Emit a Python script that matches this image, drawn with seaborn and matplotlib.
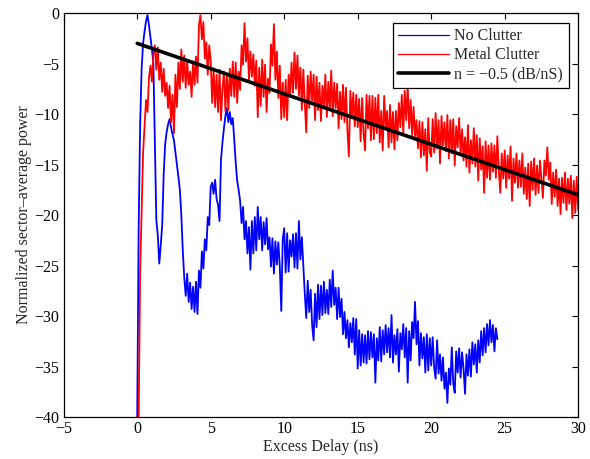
import numpy as np
import pandas as pd
import matplotlib
matplotlib.use('Agg')
import matplotlib.pyplot as plt
import seaborn as sns

# ── Data (0.1 ns steps) ───────────────────────────────────────────────────
no_clutter_t = np.round(np.arange(0, 246) * 0.1, 1)
no_clutter_db = [
    -40, -21, -11, -5.5, -3, -1.8, -0.8, -0.2, -1.2, -2.4,
    -3.6, -5, -13, -20.5, -22, -24.8, -23, -21, -16, -13,
    -11.8, -11, -10.5, -11.3, -12, -12.6, -13.8, -15, -16.2, -17.5,
    -20, -23.5, -26.2, -28, -25.8, -28.6, -26.7, -29.3, -27.1, -29.6,
    -26.6, -29.8, -25.5, -27.2, -23.6, -25.3, -22.4, -23.5, -20.2, -21,
    -17.2, -16.8, -17.9, -16.5, -18.4, -19, -20.6, -14.5, -12.8, -11.4,
    -10.2, -9.4, -10.8, -9.8, -11, -10.4, -12.5, -14.8, -16.6, -17.5,
    -18.6, -20.8, -19.2, -22.4, -20.6, -23.8, -21.2, -25.4, -20.6, -23.8,
    -20.2, -23.5, -19.2, -22.4, -20.2, -23.5, -20.7, -22.9, -20.3, -23.4,
    -22.2, -25.1, -22.3, -25.8, -22.6, -24.9, -22.7, -25.1, -29.5, -22.4,
    -21.3, -25.7, -21.8, -25.6, -22.5, -24.1, -21.9, -25.2, -21.8, -25.3,
    -20.6, -24.4, -22.2, -25.1, -27.8, -30.2, -26.5, -29.6, -27.4, -30.9,
    -32.4, -27.8, -31.1, -26.9, -30.3, -27, -29.9, -26.6, -29.7, -27.4,
    -29.8, -26.4, -29.1, -25.5, -28.9, -27.2, -30.3, -27.2, -30.1, -28.3,
    -31.8, -29.6, -32.2, -30.4, -33.1, -30.7, -32.6, -30.2, -33.8, -30.3,
    -35.2, -31.4, -34.9, -31.8, -34.6, -31.9, -34.7, -31.5, -34.3, -31.6,
    -34.1, -31.8, -36.6, -32.2, -34.4, -31.1, -34.5, -31.4, -33.8, -30.9,
    -33.6, -31.2, -34.1, -29.9, -34.6, -31.9, -33.8, -31.3, -35.5, -31.7,
    -33.3, -30.8, -34.1, -31.2, -36.6, -31.5, -34.4, -30.6, -32.2, -28.6,
    -32.8, -30.5, -34.9, -31.7, -34.2, -32.1, -35.6, -31.8, -35.4, -32.2,
    -34.9, -32.1, -35.1, -36.2, -32.4, -35.7, -33.8, -36.4, -34.1, -37.2,
    -35.6, -38.6, -35.2, -36.8, -33.1, -36.7, -37.6, -33.5, -35.6, -33.2,
    -36.1, -33.6, -35.2, -37.7, -33.8, -35.9, -33.3, -36, -32.6, -34.8,
    -32.8, -35.6, -32.4, -34.6, -31.5, -33.9, -31.2, -33.6, -30.8, -32.9,
    -30.4, -32.6, -30.9, -33.5, -31.2, -32.3,
]

metal_t = np.round(np.arange(0, 301) * 0.1, 1)
metal_db = [
    -40, -40, -25.5, -19.5, -13.8, -11.2, -8.6, -9.8, -6.4, -5.2,
    -6.8, -4.1, -3.2, -5.6, -3.4, -6.6, -4.9, -7.8, -5.5, -8.2,
    -6.9, -9.4, -7.2, -10.8, -8.1, -11.9, -6.1, -9.3, -4.9, -7.5,
    -3.6, -6.8, -4.2, -7.4, -4.7, -7.1, -5.8, -8.3, -4.8, -7.1,
    -4.3, -6.9, -1.2, -0.2, -2.6, -0.9, -4.5, -2.9, -6.1, -3.2,
    -4.7, -8.9, -5.5, -9.3, -6.1, -9.8, -5.6, -10.6, -7.5, -5.8,
    -9.7, -6.1, -9.6, -5.5, -8.2, -4.8, -8.3, -4.9, -8.9, -5.8,
    -7.6, -3.2, -5.1, -1, -4.8, -2.5, -6.6, -3.8, -6.3, -4.1,
    -7.2, -4.7, -10.3, -5.4, -9.2, -4.6, -8.3, -5.1, -9.8, -6.5,
    -7.9, -3.1, -5.2, -1.1, -6.6, -3.8, -8.4, -5.2, -10.5, -6.9,
    -10.3, -6.6, -10.6, -6.1, -8.2, -4.9, -7.9, -3.9, -7.5, -4.2,
    -8.2, -5.4, -9.6, -5.6, -8.9, -11.8, -6.2, -9.4, -5.8, -8.7,
    -6.1, -10.6, -6.3, -9.6, -6.9, -10.7, -7.2, -9.4, -6.1, -10.3,
    -6.8, -9.6, -5.7, -10.2, -6.9, -9.4, -7.0, -11.4, -7.8, -10.5,
    -7.1, -10.8, -7.4, -11.6, -14.2, -7.7, -10.3, -7.9, -11.2, -8.1,
    -11.3, -8.5, -12.7, -8.4, -11.9, -13.6, -8.1, -11.4, -8.2, -12.6,
    -8.2, -12.5, -8.4, -11.9, -8.1, -12.8, -9.7, -13.6, -8.2, -11.4,
    -9.7, -13.3, -9.1, -12.8, -9.8, -13.5, -9.7, -12.6, -8.9, -11.3,
    -8.1, -11.9, -7.7, -10.6, -7.2, -11.4, -8.6, -12.1, -9.3, -12.2,
    -10.6, -13.4, -10.7, -14.3, -10.8, -14.1, -11.5, -15.6, -10.4, -13.8,
    -14.2, -10.5, -13.8, -9.9, -13.4, -10.6, -14.9, -10.2, -13.1, -10.8,
    -13.7, -10.1, -14.4, -10.6, -13.9, -10.5, -15.1, -11.2, -13.3, -10.4,
    -14.1, -11.5, -14.6, -12.3, -15.2, -11.1, -15.8, -12.6, -14.9, -11.4,
    -15.2, -12.1, -16.6, -12.4, -15.5, -13.2, -17.8, -12.7, -16.3, -13.1,
    -16.5, -12.9, -15.7, -13.1, -16.3, -12.2, -15.6, -17.8, -13.9, -16.4,
    -13.6, -17.3, -14.1, -16.4, -13.2, -18.6, -14.4, -16.8, -13.9, -17.3,
    -14.6, -17.2, -13.9, -17.9, -15.3, -18.4, -14.9, -19.1, -14.7, -17.5,
    -14.4, -18, -15.1, -17.8, -14.6, -16.5, -18.3, -14.6, -16.1, -13.3,
    -16.5, -14.8, -18.9, -15.8, -18.2, -15.5, -19.1, -16.4, -19.9, -16.3,
    -18.8, -15.8, -19.5, -16.4, -18.9, -16.1, -20.3, -16.6, -19.8, -16.2,
    -19.6,
]

fit_t = [0, 30]
fit_db = [-3, -18]

labels = ['No Clutter', 'Metal Clutter', 'n = \u22120.5 (dB/nS)']

# ── Style ──────────────────────────────────────────────────────────────────
sns.set_theme(style='white')
plt.rcParams['font.family'] = ['Liberation Serif', 'DejaVu Serif']
plt.rcParams.update({'font.size': 11.5, 'axes.unicode_minus': True})

fig = plt.figure(figsize=(5.9, 4.59), dpi=100)
ax = fig.add_axes([0.108, 0.0915, 0.872, 0.880])

sns.lineplot(x=no_clutter_t, y=no_clutter_db, ax=ax, color='#0000ff',
             lw=1.3, label=labels[0], estimator=None, sort=False)
sns.lineplot(x=metal_t, y=metal_db, ax=ax, color='#ff0000',
             lw=1.3, label=labels[1], estimator=None, sort=False)
sns.lineplot(x=fit_t, y=fit_db, ax=ax, color='black',
             lw=2.6, label=labels[2], estimator=None, sort=False)

ax.set_xlim(-5, 30)
ax.set_ylim(-40, 0)
ax.set_xticks(np.arange(-5, 31, 5))
ax.set_yticks(np.arange(-40, 1, 5))
ax.set_xlabel('Excess Delay (ns)', fontsize=11.5, labelpad=1)
ax.set_ylabel('Normalized sector\u2013average power', fontsize=11.5, labelpad=2)
ax.tick_params(direction='in', length=4, width=0.8, top=True, right=True,
               labelsize=11.5, colors='black', pad=3)
for s in ax.spines.values():
    s.set_color('black')
    s.set_linewidth(0.9)

leg = ax.legend(loc='upper right', fontsize=11.5, frameon=True, fancybox=False,
                edgecolor='black', framealpha=1, borderaxespad=0.6,
                handlelength=3.2, handletextpad=0.3, labelspacing=0.2,
                borderpad=0.35)
leg.get_frame().set_linewidth(0.9)
for line in leg.get_lines()[:2]:
    line.set_linewidth(0.9)

plt.savefig('out.png', dpi=100)
plt.close()
